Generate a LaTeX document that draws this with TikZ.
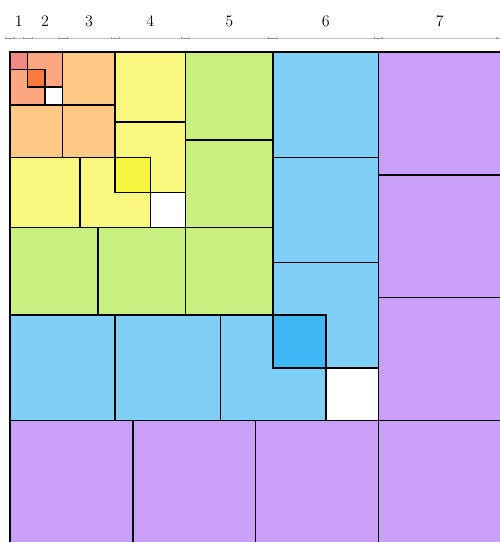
\documentclass[tikz,border=0pt]{standalone}
\definecolor{cA}{RGB}{230,20,10}
\definecolor{cB}{RGB}{250,80,0}
\definecolor{cC}{RGB}{250,150,10}
\definecolor{cD}{RGB}{245,240,0}
\definecolor{cE}{RGB}{145,225,0}
\definecolor{cF}{RGB}{0,160,240}
\definecolor{cG}{RGB}{145,65,240}
\begin{document}
\begin{tikzpicture}[x=0.5cm,y=0.5cm]
\useasboundingbox (-0.5714,-27.93) rectangle (27.93,2.9714);
\clip (-0.5714,-27.93) rectangle (27.93,2.9714);
\tikzset{
  sqfill/.style={fill opacity=0.5},
  sqline/.style={draw=black,line width=1.3pt},
  rulerline/.style={draw=black!25,line width=0.6pt},
  rulertick/.style={draw=black!40,line width=0.5pt},
  numlabel/.style={font=\fontsize{13}{15}\selectfont,inner sep=0pt}
}
% fills
\foreach \x/\y/\s/\c in {
  0/0/1/cA,
  1/0/2/cB, 0/1/2/cB,
  3/0/3/cC, 0/3/3/cC, 3/3/3/cC,
  6/0/4/cD, 6/4/4/cD, 0/6/4/cD, 4/6/4/cD,
  10/0/5/cE, 10/5/5/cE, 0/10/5/cE, 5/10/5/cE, 10/10/5/cE,
  15/0/6/cF, 15/6/6/cF, 15/12/6/cF, 0/15/6/cF, 6/15/6/cF, 12/15/6/cF,
  21/0/7/cG, 21/7/7/cG, 21/14/7/cG, 21/21/7/cG, 0/21/7/cG, 7/21/7/cG, 14/21/7/cG}
  { \fill[sqfill,fill=\c] (\x,-\y) rectangle ++(\s,-\s); }
% outlines
\foreach \x/\y/\s in {
  0/0/1,
  1/0/2, 0/1/2,
  3/0/3, 0/3/3, 3/3/3,
  6/0/4, 6/4/4, 0/6/4, 4/6/4,
  10/0/5, 10/5/5, 0/10/5, 5/10/5, 10/10/5,
  15/0/6, 15/6/6, 15/12/6, 0/15/6, 6/15/6, 12/15/6,
  21/0/7, 21/7/7, 21/14/7, 21/21/7, 0/21/7, 7/21/7, 14/21/7}
  { \draw[sqline] (\x,-\y) rectangle ++(\s,-\s); }
% ruler
\coordinate (rs) at (0,0.8);
\coordinate (re) at (28,0.8);
\draw[rulerline] (rs) -- (re);
\foreach \b in {0,1,3,6,10,15,21,28}
  { \draw[rulertick] (\b-0.25,0.8) -- (\b+0.25,0.8);
    \draw[rulertick] (\b-0.25,0.74) -- (\b-0.25,0.86);
    \draw[rulertick] (\b+0.25,0.74) -- (\b+0.25,0.86); }
\foreach \m/\n in {0.5/1, 2/2, 4.5/3, 8/4, 12.5/5, 18/6, 24.5/7}
  { \node[numlabel] (lab\n) at (\m,1.75) {\n}; }
\end{tikzpicture}
\end{document}
